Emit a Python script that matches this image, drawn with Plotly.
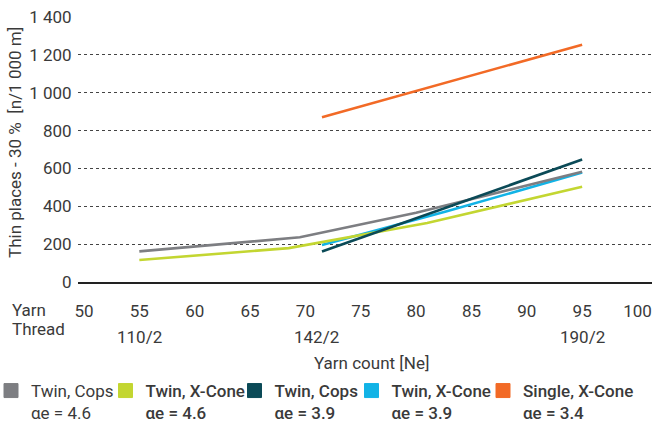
import plotly.graph_objects as go

# ---- data ----
yarn_ticks = [50, 55, 60, 65, 70, 75, 80, 85, 90, 95, 100]
yarn_tick_labels = ["50", "55", "60", "65", "70", "75", "80", "85", "90", "95", "100"]
thread_x = [55, 71, 95]
thread_labels = ["110/2", "142/2", "190/2"]
y_ticks = [0, 200, 400, 600, 800, 1000, 1200, 1400]
y_tick_labels = ["0", "200", "400", "600", "800", "1 000", "1 200", "1 400"]

twin_cops_46_x = [55, 69.5, 80, 95]
twin_cops_46_y = [162, 236, 366, 582]
twin_xcone_46_x = [55, 68.5, 81, 95]
twin_xcone_46_y = [116, 179, 312, 503]
twin_cops_39_x = [71.5, 83, 95]
twin_cops_39_y = [161, 400, 647]
twin_xcone_39_x = [71.5, 82.7, 95]
twin_xcone_39_y = [196, 372, 578]
single_xcone_34_x = [71.5, 95]
single_xcone_34_y = [871, 1254]

legend_names = ["Twin, Cops", "Twin, X-Cone", "Twin, Cops", "Twin, X-Cone", "Single, X-Cone"]
legend_ae = ["αe = 4.6", "αe = 4.6", "αe = 3.9", "αe = 3.9", "αe = 3.4"]

c_gray = "#7d7e82"
c_lime = "#c3d631"
c_teal = "#0b4a57"
c_cyan = "#12b3e6"
c_orange = "#f26a26"

# drawing order (bottom to top)
series = [
    (twin_xcone_39_x, twin_xcone_39_y, c_cyan),
    (twin_xcone_46_x, twin_xcone_46_y, c_lime),
    (twin_cops_46_x, twin_cops_46_y, c_gray),
    (twin_cops_39_x, twin_cops_39_y, c_teal),
    (single_xcone_34_x, single_xcone_34_y, c_orange),
]
legend_colors = [c_gray, c_lime, c_teal, c_cyan, c_orange]
legend_weights = [400, 500, 500, 500, 500]
# left edge of each legend box, in pixels
legend_left_px = [-9, 105.5, 234.5, 351.5, 483]

FONT = "Roboto"
TXT = "#3a3a3a"
L, R, T, B = 78, 4, 17, 139
W, H = 656, 421
PW, PH = W - L - R, H - T - B


def px_x(p):
    return (p - L) / PW


def px_y(p):
    return (H - B - p) / PH


fig = go.Figure()
for x, y, col in series:
    fig.add_trace(go.Scatter(x=x, y=y, mode="lines", line=dict(color=col, width=2.6),
                             showlegend=False, hoverinfo="skip"))

legend_layouts = {}
for i, (nm, ae, col, wt, lp) in enumerate(zip(legend_names, legend_ae, legend_colors,
                                               legend_weights, legend_left_px)):
    key = "legend" if i == 0 else f"legend{i + 1}"
    label = f"<span style='font-weight:{wt}'>{nm}<br>{ae}</span>"
    fig.add_trace(go.Scatter(x=[None], y=[None], mode="markers", name=label,
                             legend=key,
                             marker=dict(symbol="square", size=14, color=col,
                                         line=dict(color=col, width=1))))
    legend_layouts[key] = dict(orientation="h", x=px_x(lp), xanchor="left",
                               y=px_y(373), yanchor="top", valign="top",
                               font=dict(family=FONT, size=17, color=TXT),
                               bgcolor="rgba(0,0,0,0)", borderwidth=0)

fig.update_layout(
    width=W, height=H,
    margin=dict(l=L, r=R, t=T, b=B, autoexpand=False),
    paper_bgcolor="white", plot_bgcolor="white",
    font=dict(family=FONT, size=17, color=TXT),
    showlegend=True,
    xaxis=dict(range=[49.46, 101.31], tickvals=yarn_ticks, ticktext=yarn_tick_labels,
               showgrid=False, zeroline=False, showline=True, linecolor="#222",
               linewidth=1.5, ticks="outside", ticklen=13, tickcolor="rgba(0,0,0,0)",
               tickfont=dict(size=17, color=TXT), fixedrange=True, automargin=False),
    yaxis=dict(range=[0, 1400], tickvals=y_ticks, ticktext=y_tick_labels,
               showgrid=True, gridcolor="#444", griddash="dot", gridwidth=1,
               zeroline=False, showline=False, ticks="outside", ticklen=2,
               tickcolor="rgba(0,0,0,0)", tickfont=dict(size=17, color=TXT),
               fixedrange=True, automargin=False),
    **legend_layouts,
)

# y-axis title
fig.add_annotation(text="Thin places - 30 %  [n/1 000 m]", textangle=-90,
                   xref="paper", yref="paper", x=px_x(15), y=px_y(143),
                   xanchor="center", yanchor="middle", showarrow=False,
                   font=dict(size=17, color=TXT))
# row labels
fig.add_annotation(text="Yarn", xref="paper", yref="paper", x=px_x(10),
                   y=px_y(310), xanchor="left", yanchor="middle",
                   showarrow=False, font=dict(size=17, color=TXT))
fig.add_annotation(text="Thread", xref="paper", yref="paper", x=px_x(10),
                   y=px_y(329), xanchor="left", yanchor="middle",
                   showarrow=False, font=dict(size=17, color=TXT))
for tx, tl in zip(thread_x, thread_labels):
    fig.add_annotation(text=tl, xref="x", yref="paper", x=tx, y=px_y(336.5),
                       xanchor="center", yanchor="middle", showarrow=False,
                       font=dict(size=17, color=TXT))
# x-axis title
fig.add_annotation(text="Yarn count [Ne]", xref="paper", yref="paper",
                   x=px_x(372), y=px_y(363), xanchor="center",
                   yanchor="middle", showarrow=False, font=dict(size=17, color=TXT))

fig.write_html("out.html", config={"displayModeBar": False},
               post_script="document.body.style.margin='0';")
